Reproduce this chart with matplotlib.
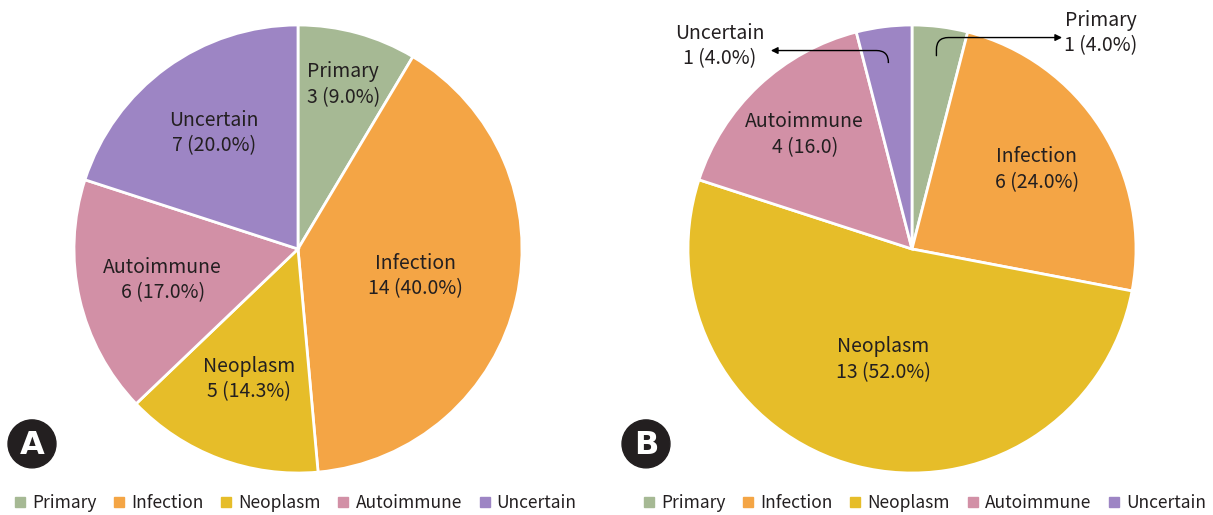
import numpy as np
import matplotlib.pyplot as plt
from matplotlib.lines import Line2D
from matplotlib.patches import Circle

plt.rcParams['font.family'] = ['Noto Sans CJK KR', 'DejaVu Sans']

# datos
categories = ['Primary', 'Infection', 'Neoplasm', 'Autoimmune', 'Uncertain']
colors = ['#A6B994', '#F4A545', '#E6BD29', '#D290A6', '#9D85C4']

counts_a = [3, 14, 5, 6, 7]
pct_a = ['9.0%', '40.0%', '14.3%', '17.0%', '20.0%']

counts_b = [1, 6, 13, 4, 1]
pct_b = ['4.0%', '24.0%', '52.0%', '16.0', '4.0%']

txt = '#231F20'

fig = plt.figure(figsize=(12.13, 5.15), dpi=100)
W, H = 1213, 515


def pie_axes(cx, cy, r=224):
    return fig.add_axes([(cx - r) / W, (H - cy - r) / H, 2 * r / W, 2 * r / H])


def draw_pie(ax, counts, pcts, dists, outside, letter, leg_x):
    wedges, _ = ax.pie(counts, colors=colors, startangle=90, counterclock=False,
                       radius=1, wedgeprops=dict(edgecolor='white', linewidth=2))
    for i, w in enumerate(wedges):
        mid = np.deg2rad((w.theta1 + w.theta2) / 2)
        label = f'{categories[i]}\n{counts[i]} ({pcts[i]})'
        if i in outside:
            # etiqueta fuera con flecha
            tx, ty, tipx, start_r = outside[i]
            ax.text(tx, ty, label, ha='center', va='center', fontsize=14,
                    color=txt, linespacing=1.3, clip_on=False)
            sx, sy = start_r * np.cos(mid), start_r * np.sin(mid)
            ax.annotate('', xy=(tipx, ty - 0.02), xytext=(sx, sy),
                        arrowprops=dict(arrowstyle='-|>', color='black', lw=1,
                                        mutation_scale=10, shrinkA=0, shrinkB=0,
                                        connectionstyle='angle,angleA=90,angleB=0,rad=12'),
                        annotation_clip=False)
        else:
            d = dists[i]
            ax.text(d * np.cos(mid), d * np.sin(mid), label, ha='center', va='center',
                    fontsize=14, color=txt, linespacing=1.3)
    ax.set_xlim(-1, 1)
    ax.set_ylim(-1, 1)
    ax.set_aspect('equal')
    ax.axis('off')

    # insignia con letra
    ax.add_patch(Circle((-1.1875, -0.87), 0.107, color='#231F20', clip_on=False))
    ax.text(-1.1875, -0.875, letter, ha='center', va='center', fontsize=23,
            fontweight='bold', color='white', clip_on=False, family='DejaVu Sans')

    handles = [Line2D([], [], marker='s', linestyle='none', markersize=7,
                      markerfacecolor=c, markeredgecolor=c) for c in colors]
    ax.legend(handles, categories, loc='center', bbox_to_anchor=(leg_x, -0.067),
              ncol=5, frameon=False, fontsize=12.5, handletextpad=0.3,
              columnspacing=0.9, handlelength=0.8, borderpad=0, labelcolor=txt)


ax_a = pie_axes(298, 249)
draw_pie(ax_a, counts_a, pct_a, [0.76, 0.54, 0.62, 0.62, 0.64], {}, 'A', 0.493)

ax_b = pie_axes(912, 249)
draw_pie(ax_b, counts_b, pct_b, [0, 0.66, 0.51, 0.70, 0],
         {0: (0.844, 0.964, 0.67, 0.87), 4: (-0.857, 0.906, -0.63, 0.84)}, 'B', 0.527)

fig.savefig('out.png', dpi=100)
